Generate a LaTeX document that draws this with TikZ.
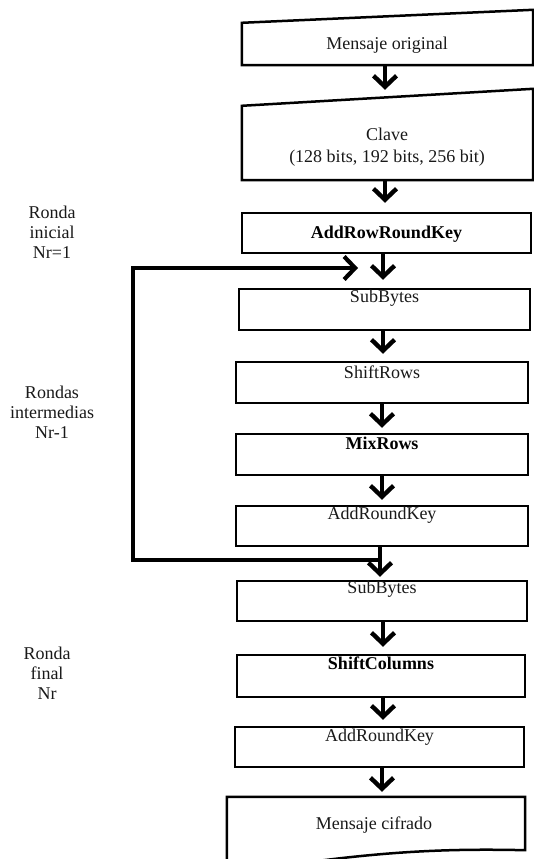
\documentclass[tikz,border=0pt]{standalone}
\usepackage{fontspec}
\setmainfont{Liberation Serif}
\usetikzlibrary{arrows.meta,calc}
\begin{document}
\begin{tikzpicture}[x=1pt,y=-1pt,
  bord/.style={draw=black, line width=2.5pt, line join=miter},
  box/.style={bord, rectangle, inner sep=0pt},
  shapebox/.style={rectangle, inner sep=0pt},
  txt/.style={font=\fontsize{18}{22}\selectfont, text=black!90, align=center, inner sep=0pt},
  btxt/.style={txt, font=\fontsize{18}{22}\selectfont\bfseries, text=black},
  side/.style={font=\fontsize{18}{20}\selectfont, text=black!90, align=center, inner sep=0pt},
  arr/.style={line width=4.4pt, -{Straight Barb[length=11pt,width=23pt]}},
  loopline/.style={line width=4.2pt, line join=miter, -{Straight Barb[length=11pt,width=23pt]}},
]
\useasboundingbox (0,0) rectangle (534,859);
\clip (0,0) rectangle (534,859);

% side labels
\node[side] (l1) at (52,232) {Ronda\\inicial\\Nr=1};
\node[side] (l2) at (52,412) {Rondas\\intermedias\\Nr-1};
\node[side] (l3) at (47,673) {Ronda\\final\\Nr};

% manual input: Mensaje original
\node[shapebox, minimum width=291, minimum height=42] (m1) at (387.5,44) {};
\draw[bord] (m1.south west) -- (m1.south east) -- ([yshift=13pt]m1.north east) -- (m1.north west) -- cycle;
\node[txt] (m1t) at (387,45) {Mensaje original};

% manual input: Clave
\node[shapebox, minimum width=291, minimum height=74] (key) at (387.5,143) {};
\draw[bord] (key.south west) -- (key.south east) -- ([yshift=17pt]key.north east) -- (key.north west) -- cycle;
\node[txt] (keyt) at (387,147) {Clave\\(128 bits, 192 bits, 256 bit)};

% AddRowRoundKey
\node[box, minimum width=289, minimum height=40] (ark) at (386.5,233) {};
\node[btxt] (arkt) at (386.5,234) {AddRowRoundKey};

% intermediate rounds
\node[box, minimum width=291, minimum height=41] (sb1) at (384.5,309.5) {};
\node[txt] (sb1t) at (384.5,298) {SubBytes};

\node[box, minimum width=292, minimum height=41] (sr) at (382,382.5) {};
\node[txt] (srt) at (382,372) {ShiftRows};

\node[box, minimum width=292, minimum height=41] (mr) at (382,454.5) {};
\node[btxt] (mrt) at (382,443) {MixRows};

\node[box, minimum width=292, minimum height=40] (ark1) at (382,526) {};
\node[txt] (ark1t) at (382,515) {AddRoundKey};

% final round
\node[box, minimum width=290, minimum height=40] (sb2) at (382,601) {};
\node[txt] (sb2t) at (382,589) {SubBytes};

\node[box, minimum width=288, minimum height=42] (sc) at (381,676) {};
\node[btxt] (sct) at (381,663) {ShiftColumns};

\node[box, minimum width=289, minimum height=40] (ark2) at (379.5,747) {};
\node[txt] (ark2t) at (379.5,737) {AddRoundKey};

% document: Mensaje cifrado
\node[shapebox, minimum width=298, minimum height=53] (out) at (376,823.5) {};
\draw[bord] (out.north west) -- (out.north east) -- (out.south east)
  .. controls (430,848) and (360,853) .. (227,874) -- cycle;
\node[txt] (outt) at (374,825) {Mensaje cifrado};

% arrows
\draw[arr, shorten >=16pt] (m1.south -| 385,0) -- (key.north -| 385,0);
\draw[arr, shorten >=9pt] (key.south -| 385,0) -- (ark.north -| 385,0);
\draw[arr, shorten >=8pt] (ark.south -| 383,0) -- (sb1.north -| 383,0);
\draw[arr, shorten >=7pt] (sb1.south -| 383,0) -- (sr.north -| 383,0);
\draw[arr, shorten >=5pt] (sr.south -| 382,0) -- (mr.north -| 382,0);
\draw[arr, shorten >=5pt] (mr.south -| 382,0) -- (ark1.north -| 382,0);
\draw[arr, shorten >=3pt] (ark1.south -| 380,0) -- (sb2.north -| 380,0);
\draw[arr, shorten >=7pt] (sb2.south -| 383,0) -- (sc.north -| 383,0);
\draw[arr, shorten >=6pt] (sc.south -| 383,0) -- (ark2.north -| 383,0);
\draw[arr, shorten >=5pt] (ark2.south -| 382,0) -- (out.north -| 382,0);

% loop back
\coordinate (lb) at (133,560);
\coordinate (lt) at (133,268);
\coordinate (le) at (358,268);
\draw[loopline] (380,560) -- (lb) -- (lt) -- (le);
\end{tikzpicture}
\end{document}
